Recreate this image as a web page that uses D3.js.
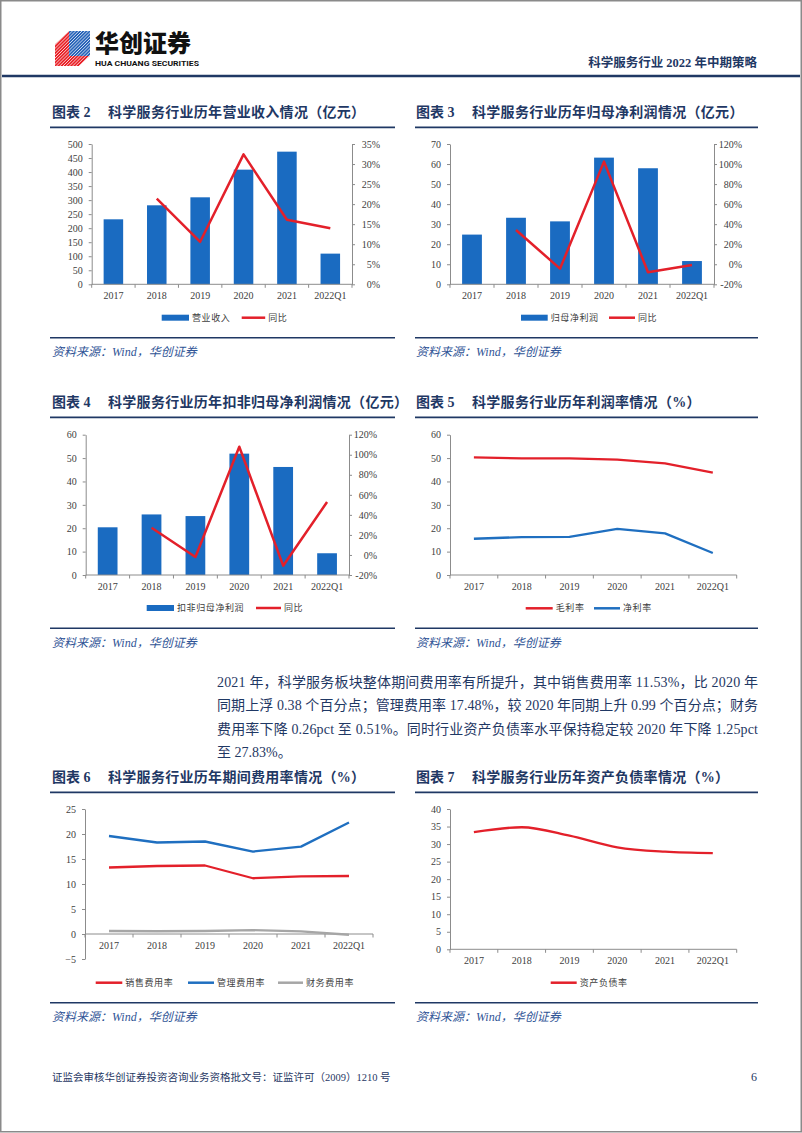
<!DOCTYPE html>
<html><head><meta charset="utf-8">
<script src="https://cdn.jsdelivr.net/npm/d3@7"></script>
<style>
html,body{margin:0;padding:0;background:#fff;}
svg{display:block;}
</style></head><body>
<svg id="page" width="802" height="1133"></svg>
<script>
// ---------------- DATA ----------------
const years = ["2017", "2018", "2019", "2020", "2021", "2022Q1"];
const revenue = [231.6, 281.5, 310.0, 408.6, 472.7, 109.3];
const revenueYoY = [null, 21.4, 10.6, 32.4, 16.1, 14.0];
const netProfit = [24.8, 33.2, 31.4, 63.2, 57.9, 11.6];
const netProfitYoY = [null, 34.2, -4.4, 102.4, -8.0, -0.7];
const deductedProfit = [20.4, 25.9, 25.2, 51.9, 46.2, 9.3];
const deductedProfitYoY = [null, 27.2, -2.0, 108.0, -10.7, 52.8];
const grossMargin = [50.3, 49.9, 49.9, 49.3, 47.7, 43.8];
const netMargin = [15.5, 16.2, 16.3, 19.7, 17.8, 9.4];
const sellingRate = [13.3, 13.6, 13.7, 11.15, 11.53, 11.6];
const adminRate = [19.6, 18.3, 18.5, 16.49, 17.48, 22.3];
const financeRate = [0.6, 0.55, 0.6, 0.77, 0.51, -0.15];
const debtRatio = [33.4, 34.8, 32.4, 29.08, 27.83, 27.4];

const ticksRevenue = [0, 50, 100, 150, 200, 250, 300, 350, 400, 450, 500];
const ticksRevenueYoY = [0, 5, 10, 15, 20, 25, 30, 35];
const ticksProfit = [0, 10, 20, 30, 40, 50, 60, 70];
const ticksProfitYoY = [-20, 0, 20, 40, 60, 80, 100, 120];
const ticksDeducted = [0, 10, 20, 30, 40, 50, 60];
const ticksMargin = [0, 10, 20, 30, 40, 50, 60];
const ticksExpense = [-5, 0, 5, 10, 15, 20, 25];
const ticksDebt = [0, 5, 10, 15, 20, 25, 30, 35, 40];

const paraLines = [
  "2021 年，科学服务板块整体期间费用率有所提升，其中销售费用率 11.53%，比 2020 年",
  "同期上浮 0.38 个百分点；管理费用率 17.48%，较 2020 年同期上升 0.99 个百分点；财务",
  "费用率下降 0.26pct 至 0.51%。同时行业资产负债率水平保持稳定较 2020 年下降 1.25pct",
  "至 27.83%。"
];

// ---------------- STYLE ----------------
const NAVY = "#1f3864";
const SRC = "#2f5496";
const AX = "#8c8c8c";
const TXT = "#404040";
const BAR = "#1a6bc1";
const RED = "#e3202a";
const BLUE = "#1f6fc0";
const GRAY = "#a6a6a6";
const SERIF = "'Liberation Serif','Noto Sans CJK SC',serif";
const CJK = "'Noto Sans CJK SC','Noto Sans',sans-serif";

const svg = d3.select("#page");

// page border
svg.append("rect").attr("x", 0.75).attr("y", 0.75).attr("width", 800.5).attr("height", 1131)
  .attr("fill", "none").attr("stroke", "#8a8a8a").attr("stroke-width", 1.5);

// ---------------- HEADER ----------------
const logo = svg.append("g");
const defs = svg.append("defs");
defs.append("clipPath").attr("id", "logoClip").append("polygon")
  .attr("points", "55,44 69,31 90,31 90,56 79,66 55,66");
const lg = logo.append("g").attr("clip-path", "url(#logoClip)");
lg.append("polygon").attr("points", "55,44 69,31 69,56 90,56 79,66 55,66").attr("fill", "#e8262c");
lg.append("rect").attr("x", 69).attr("y", 31).attr("width", 21).attr("height", 25).attr("fill", "#2a63b8");
for (let i = -40; i < 50; i += 3.2) {
  lg.append("line").attr("x1", 55 + i).attr("y1", 66).attr("x2", 90 + i).attr("y2", 31)
    .attr("stroke", "#fff").attr("stroke-width", 0.9).attr("opacity", 0.85);
}
svg.append("text").attr("x", 95).attr("y", 52).text("华创证券")
  .style("font-family", CJK).style("font-weight", "900").style("font-size", "24px").attr("fill", "#111");
svg.append("text").attr("x", 95).attr("y", 66).text("HUA CHUANG SECURITIES")
  .attr("textLength", 104).attr("lengthAdjust", "spacingAndGlyphs")
  .style("font-family", "'Roboto','DejaVu Sans',sans-serif").style("font-weight", "bold").style("font-size", "8px").attr("fill", "#111");
svg.append("text").attr("x", 757).attr("y", 63).attr("dy", "0.35em").attr("text-anchor", "end")
  .text("科学服务行业 2022 年中期策略")
  .style("font-family", SERIF).style("font-weight", "bold").style("font-size", "12.5px").attr("fill", NAVY);
svg.append("line").attr("x1", 2).attr("x2", 800).attr("y1", 76).attr("y2", 76)
  .attr("stroke", NAVY).attr("stroke-width", 2.5);

// ---------------- FRAME HELPERS ----------------
function frame(f) {
  svg.append("text").attr("x", f.tx).attr("y", f.yTitle).attr("dy", "0.35em")
    .text("图表 " + f.no)
    .style("font-family", SERIF).style("font-weight", "bold").style("font-size", "14px").attr("fill", NAVY);
  svg.append("text").attr("x", f.tx + 56).attr("y", f.yTitle).attr("dy", "0.35em")
    .text(f.title)
    .style("font-family", SERIF).style("font-weight", "bold").style("font-size", "14px")
    .style("letter-spacing", "0.3px").attr("fill", NAVY);
  svg.append("line").attr("x1", f.r0).attr("x2", f.r1).attr("y1", f.yRule).attr("y2", f.yRule)
    .attr("stroke", NAVY).attr("stroke-width", 1.8);
  svg.append("line").attr("x1", f.r0).attr("x2", f.r1).attr("y1", f.yBot).attr("y2", f.yBot)
    .attr("stroke", NAVY).attr("stroke-width", 1.5);
  svg.append("text").attr("x", f.tx).attr("y", f.ySrc).attr("dy", "0.35em")
    .text("资料来源：Wind，华创证券")
    .style("font-family", SERIF).style("font-style", "italic").style("font-size", "12px").attr("fill", SRC);
}

function styleAxis(sel) {
  sel.attr("font-family", null).attr("font-size", null);
  sel.select(".domain").attr("stroke", AX).attr("stroke-width", 1);
  sel.selectAll(".tick line").attr("stroke", AX);
  sel.selectAll(".tick text").attr("fill", TXT).style("font-family", SERIF).style("font-size", "10px");
}

function legend(items, y) {
  items.forEach(it => {
    if (it.type === "bar") {
      svg.append("rect").attr("x", it.x).attr("y", y - 3).attr("width", it.w).attr("height", 6).attr("fill", it.color);
    } else {
      svg.append("line").attr("x1", it.x).attr("x2", it.x + it.w).attr("y1", y).attr("y2", y)
        .attr("stroke", it.color).attr("stroke-width", 2.5);
    }
    svg.append("text").attr("x", it.x + it.w + 3).attr("y", y).attr("dy", "0.35em").text(it.label)
      .style("font-family", CJK).style("font-size", "9px").style("letter-spacing", "0.6px").attr("fill", TXT);
  });
}

function xAxis(g, x, yAxis, x0, x1, labelY) {
  g.append("line").attr("x1", x0).attr("x2", x1).attr("y1", yAxis).attr("y2", yAxis)
    .attr("stroke", AX).attr("stroke-width", 1);
  const step = x.step();
  d3.range(x.domain().length + 1).forEach(i => {
    const xx = x0 + i * step;
    g.append("line").attr("x1", xx).attr("x2", xx).attr("y1", yAxis).attr("y2", yAxis + 3.5)
      .attr("stroke", AX).attr("stroke-width", 1);
  });
  x.domain().forEach(c => {
    g.append("text").attr("x", x(c) + x.bandwidth() / 2).attr("y", labelY).attr("dy", "0.35em")
      .attr("text-anchor", "middle").text(c)
      .style("font-family", SERIF).style("font-size", "10px").attr("fill", TXT);
  });
}

function barLineChart(o) {
  const g = svg.append("g");
  const x = d3.scaleBand().domain(years).range([o.x0, o.x1]);
  const y = d3.scaleLinear().domain(o.yDom).range([o.yb, o.yt]);
  const yr = d3.scaleLinear().domain(o.rDom).range([o.yb, o.yt]);
  g.append("g").attr("transform", `translate(${o.x0},0)`)
    .call(d3.axisLeft(y).tickValues(o.yTicks).tickSize(3).tickPadding(6).tickSizeOuter(0))
    .call(styleAxis);
  const ra = g.append("g").attr("transform", `translate(${o.x1},0)`)
    .call(d3.axisRight(yr).tickValues(o.rTicks).tickSize(3).tickSizeOuter(0).tickFormat(d => d + "%"))
    .call(styleAxis);
  ra.selectAll(".tick text").attr("x", 28).attr("text-anchor", "end");
  const bw = x.bandwidth() * 0.45;
  g.selectAll("rect.bar").data(o.bars).join("rect").attr("class", "bar")
    .attr("x", (d, i) => x(years[i]) + (x.bandwidth() - bw) / 2)
    .attr("y", d => y(d)).attr("width", bw).attr("height", d => y(0) - y(d))
    .attr("fill", BAR);
  xAxis(g, x, y(0), o.x0, o.x1, o.yb + 11);
  const line = d3.line().defined(d => d != null)
    .x((d, i) => x(years[i]) + x.bandwidth() / 2).y(d => yr(d));
  g.append("path").attr("d", line(o.line)).attr("fill", "none").attr("stroke", RED)
    .attr("stroke-width", 2.5).attr("stroke-linejoin", "round");
}

function lineChart(o) {
  const g = svg.append("g");
  const x = d3.scaleBand().domain(years).range([o.x0, o.x1]);
  const y = d3.scaleLinear().domain(o.yDom).range([o.yb, o.yt]);
  g.append("g").attr("transform", `translate(${o.x0},0)`)
    .call(d3.axisLeft(y).tickValues(o.yTicks).tickSize(3).tickPadding(6).tickSizeOuter(0))
    .call(styleAxis);
  xAxis(g, x, y(0), o.x0, o.x1, y(0) + 11);
  const line = d3.line().curve(o.curve || d3.curveLinear)
    .x((d, i) => x(years[i]) + x.bandwidth() / 2).y(d => y(d));
  o.series.forEach(s => {
    g.append("path").attr("d", line(s.values)).attr("fill", "none").attr("stroke", s.color)
      .attr("stroke-width", 2.3).attr("stroke-linejoin", "round");
  });
}

// ---------------- CHART 2 ----------------
frame({tx: 52, no: "2", title: "科学服务行业历年营业收入情况（亿元）", r0: 50, r1: 395,
  yTitle: 111.7, yRule: 127.3, yBot: 337.7, ySrc: 351.7});
barLineChart({x0: 91.7, x1: 352, yt: 144, yb: 284.3, yDom: [0, 500], yTicks: ticksRevenue,
  rDom: [0, 35], rTicks: ticksRevenueYoY, bars: revenue, line: revenueYoY});
legend([{type: "bar", color: BAR, x: 161.7, w: 27.3, label: "营业收入"},
        {type: "line", color: RED, x: 241.7, w: 23.5, label: "同比"}], 317.7);

// ---------------- CHART 3 ----------------
frame({tx: 416, no: "3", title: "科学服务行业历年归母净利润情况（亿元）", r0: 415, r1: 758,
  yTitle: 111.7, yRule: 127.3, yBot: 337.7, ySrc: 351.7});
barLineChart({x0: 450, x1: 714, yt: 144, yb: 284.3, yDom: [0, 70], yTicks: ticksProfit,
  rDom: [-20, 120], rTicks: ticksProfitYoY, bars: netProfit, line: netProfitYoY});
legend([{type: "bar", color: BAR, x: 521, w: 26.7, label: "归母净利润"},
        {type: "line", color: RED, x: 609, w: 26, label: "同比"}], 317.7);

// ---------------- CHART 4 ----------------
frame({tx: 52, no: "4", title: "科学服务行业历年扣非归母净利润情况（亿元）", r0: 50, r1: 395,
  yTitle: 402.3, yRule: 417.3, yBot: 628.3, ySrc: 642.3});
barLineChart({x0: 85.7, x1: 349, yt: 434.7, yb: 575, yDom: [0, 60], yTicks: ticksDeducted,
  rDom: [-20, 120], rTicks: ticksProfitYoY, bars: deductedProfit, line: deductedProfitYoY});
legend([{type: "bar", color: BAR, x: 146.7, w: 27.3, label: "扣非归母净利润"},
        {type: "line", color: RED, x: 256, w: 25, label: "同比"}], 608);

// ---------------- CHART 5 ----------------
frame({tx: 416, no: "5", title: "科学服务行业历年利润率情况（%）", r0: 415, r1: 758,
  yTitle: 402.3, yRule: 417.3, yBot: 628.3, ySrc: 642.3});
lineChart({x0: 450, x1: 736.7, yt: 434.7, yb: 575, yDom: [0, 60], yTicks: ticksMargin,
  series: [{values: grossMargin, color: RED}, {values: netMargin, color: BLUE}]});
legend([{type: "line", color: RED, x: 525.7, w: 27, label: "毛利率"},
        {type: "line", color: BLUE, x: 594, w: 26, label: "净利率"}], 608.3);

// ---------------- PARAGRAPH ----------------
const paraY = [682, 705.5, 729, 752.5];
paraLines.forEach((t, i) => {
  const tx = svg.append("text").attr("x", 217).attr("y", paraY[i]).attr("dy", "0.35em").text(t)
    .style("font-family", SERIF).style("font-size", "14px").attr("fill", NAVY);
  if (i < paraLines.length - 1) tx.attr("textLength", 541).attr("lengthAdjust", "spacing");
});

// ---------------- CHART 6 ----------------
frame({tx: 52, no: "6", title: "科学服务行业历年期间费用率情况（%）", r0: 50, r1: 395,
  yTitle: 776.7, yRule: 792.3, yBot: 1002.7, ySrc: 1016.7});
lineChart({x0: 85, x1: 373, yt: 809, yb: 959, yDom: [-5, 25], yTicks: ticksExpense,
  series: [{values: financeRate, color: GRAY}, {values: sellingRate, color: RED}, {values: adminRate, color: BLUE}]});
legend([{type: "line", color: RED, x: 95.7, w: 26.6, label: "销售费用率"},
        {type: "line", color: BLUE, x: 188, w: 26, label: "管理费用率"},
        {type: "line", color: GRAY, x: 278, w: 25, label: "财务费用率"}], 982.7);

// ---------------- CHART 7 ----------------
frame({tx: 416, no: "7", title: "科学服务行业历年资产负债率情况（%）", r0: 415, r1: 758,
  yTitle: 776.7, yRule: 792.3, yBot: 1002.7, ySrc: 1016.7});
lineChart({x0: 450, x1: 736.7, yt: 809, yb: 949.3, yDom: [0, 40], yTicks: ticksDebt,
  curve: d3.curveMonotoneX, series: [{values: debtRatio, color: RED}]});
legend([{type: "line", color: RED, x: 550.7, w: 26, label: "资产负债率"}], 982.7);

// ---------------- FOOTER ----------------
svg.append("text").attr("x", 52).attr("y", 1077).attr("dy", "0.35em")
  .text("证监会审核华创证券投资咨询业务资格批文号：证监许可（2009）1210 号")
  .style("font-family", SERIF).style("font-size", "10.5px").attr("fill", NAVY);
svg.append("text").attr("x", 757).attr("y", 1077).attr("dy", "0.35em").attr("text-anchor", "end")
  .text("6").style("font-family", SERIF).style("font-size", "12px").attr("fill", NAVY);
</script>
</body></html>
